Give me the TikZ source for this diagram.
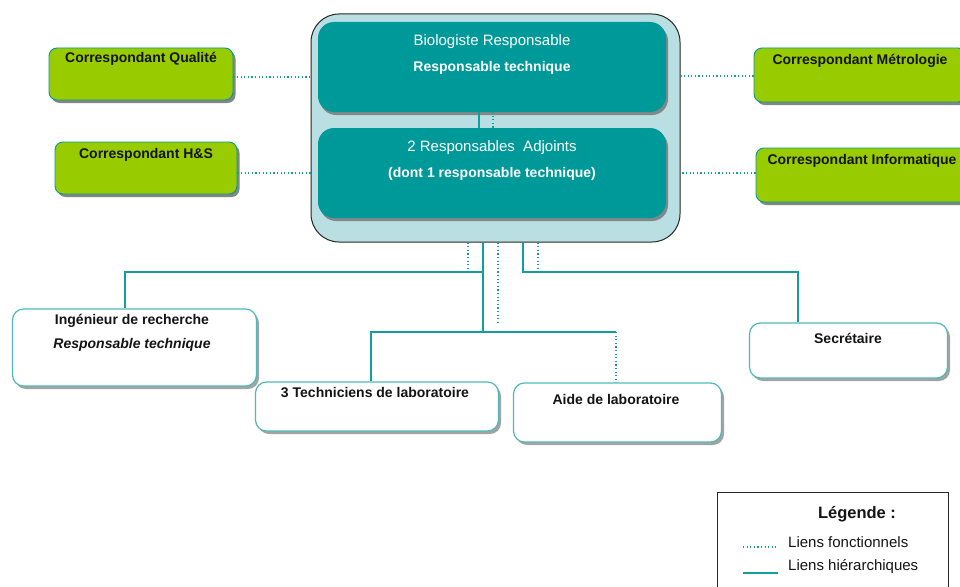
\documentclass[tikz,border=0pt]{standalone}
\usepackage{fontspec}
\setmainfont{Liberation Sans}
\usetikzlibrary{shadows}
\definecolor{teal1}{HTML}{009999}
\definecolor{lteal}{HTML}{B9DFE3}
\definecolor{green1}{HTML}{99CC00}
\definecolor{wborder}{HTML}{50B8B8}
\definecolor{lnc}{HTML}{139E9E}
\definecolor{txt}{HTML}{141414}
\tikzset{
  outerbox/.style={draw=black!85, line width=1pt, fill=lteal, rounded corners=28pt, minimum width=369pt, minimum height=228pt, inner sep=0pt},
  tealbox/.style={draw=none, fill=teal1, rounded corners=16pt, minimum width=348pt, minimum height=90pt, inner sep=0pt,
     drop shadow={shadow xshift=2pt, shadow yshift=-3pt, fill=black!55, opacity=0.8}},
  greenbox/.style={draw=teal1, line width=0.9pt, fill=green1, rounded corners=8pt, inner sep=0pt,
     drop shadow={shadow xshift=2.5pt, shadow yshift=-3pt, fill=black!60, opacity=0.8}},
  whitebox/.style={draw=wborder, line width=1.2pt, fill=white, rounded corners=11pt, inner sep=0pt,
     drop shadow={shadow xshift=2.5pt, shadow yshift=-3pt, fill=black!45, opacity=0.8}},
  tb/.style={inner sep=0pt, text=txt, font=\fontsize{14}{16}\selectfont\bfseries},
  tw/.style={inner sep=0pt, text=white, font=\fontsize{14}{16}\selectfont\bfseries},
  twr/.style={inner sep=0pt, text=white, font=\fontsize{15}{17}\selectfont},
  hier/.style={draw=lnc, line width=1.8pt},
  fonc/.style={draw=lnc, line width=1.5pt, dash pattern=on 1.2pt off 2.4pt},
  legtxt/.style={inner sep=0pt, text=txt, font=\fontsize{15}{17}\selectfont},
}
\begin{document}
\begin{tikzpicture}[x=1pt,y=-1pt]
\useasboundingbox (0,0) rectangle (960,586);

% central block
\node[outerbox] (outer) at (495.5,128) {};
\node[tealbox] (bio) at (492,67) {};
\node[tealbox] (adj) at (492,173) {};
\draw[hier, line width=1.5pt] (479,112) -- (479,128);
\draw[fonc] (493,112) -- (493,128);
\node[twr] (tbio) at (492,42) {Biologiste Responsable};
\node[tw] (tbio2) at (492,68) {Responsable technique};
\node[twr] (tadj) at (492,148) {2 Responsables\ \ Adjoints};
\node[tw] (tadj2) at (492,174) {(dont 1 responsable technique)};

% correspondants
\node[greenbox, minimum width=184pt, minimum height=52pt] (qual) at (141,74) {};
\node[greenbox, minimum width=182pt, minimum height=52pt] (hs) at (146,168) {};
\node[greenbox, minimum width=212pt, minimum height=54pt] (metro) at (860,75) {};
\node[greenbox, minimum width=212pt, minimum height=54pt] (info) at (862,175) {};
\node[tb] (tqual) at (141,59) {Correspondant Qualité};
\node[tb] (ths) at (146,155) {Correspondant H\&S};
\node[tb] (tmetro) at (860,61) {Correspondant Métrologie};
\node[tb] (tinfo) at (862,161) {Correspondant Informatique};

\draw[fonc] ([yshift=-3pt]qual.east) -- ([yshift=-3pt]qual.east -| outer.west);
\draw[fonc] ([yshift=-5pt]hs.east) -- ([yshift=-5pt]hs.east -| outer.west);
\draw[fonc] ([yshift=-1pt]metro.west) -- ([yshift=-1pt]metro.west -| outer.east);
\draw[fonc] ([yshift=2pt]info.west) -- ([yshift=2pt]info.west -| outer.east);

% lower boxes
\node[whitebox, minimum width=244pt, minimum height=77pt] (ing) at (134.5,347.5) {};
\node[whitebox, minimum width=243pt, minimum height=49pt] (tech) at (377,406.5) {};
\node[whitebox, minimum width=208pt, minimum height=59pt] (aide) at (617.5,412.5) {};
\node[whitebox, minimum width=198pt, minimum height=55pt] (sec) at (848.5,350.5) {};
\node[tb] (ting) at (132,321) {Ingénieur de recherche};
\node[tb, font=\fontsize{14}{16}\selectfont\bfseries\itshape] (ting2) at (132,345) {Responsable technique};
\node[tb] (ttech) at (375,393) {3 Techniciens de laboratoire};
\node[tb] (taide) at (616,399) {Aide de laboratoire};
\node[tb] (tsec) at (848,338) {Secrétaire};

% hierarchical links
\coordinate (c1) at (outer.south -| 483,0);
\coordinate (c2) at (outer.south -| 523,0);
\coordinate (f1) at (outer.south -| 468,0);
\coordinate (f2) at (outer.south -| 498,0);
\coordinate (f3) at (outer.south -| 538,0);
\draw[hier] (c1) -- (483,332);
\draw[hier] (483,272) -| (ing.north -| 125,0);
\draw[hier] (tech.north -| 371,0) |- (616,332);
\draw[fonc] (616,332) -- (aide.north -| 616,0);
\draw[hier] (c2) |- (798,272) -- (sec.north -| 798,0);
\draw[fonc] (f1) -- (468,272);
\draw[fonc] (f2) -- (498,322);
\draw[fonc] (f3) -- (538,272);

% legend
\node[draw=black!85, line width=1pt, fill=white, minimum width=231pt, minimum height=110pt, inner sep=0pt] (leg) at (832.5,547.5) {};
\node[legtxt, font=\fontsize{16.5}{18}\selectfont\bfseries] (tleg) at (857,514) {Légende :};
\coordinate (ld1) at (743,547);
\coordinate (ld2) at (776,547);
\coordinate (ls1) at (743,573);
\coordinate (ls2) at (778,573);
\draw[fonc] (ld1) -- (ld2);
\draw[hier] (ls1) -- (ls2);
\node[legtxt, anchor=west] (tl1) at (788,542) {Liens fonctionnels};
\node[legtxt, anchor=west] (tl2) at (788,567) {Liens hiérarchiques};
\end{tikzpicture}
\end{document}
